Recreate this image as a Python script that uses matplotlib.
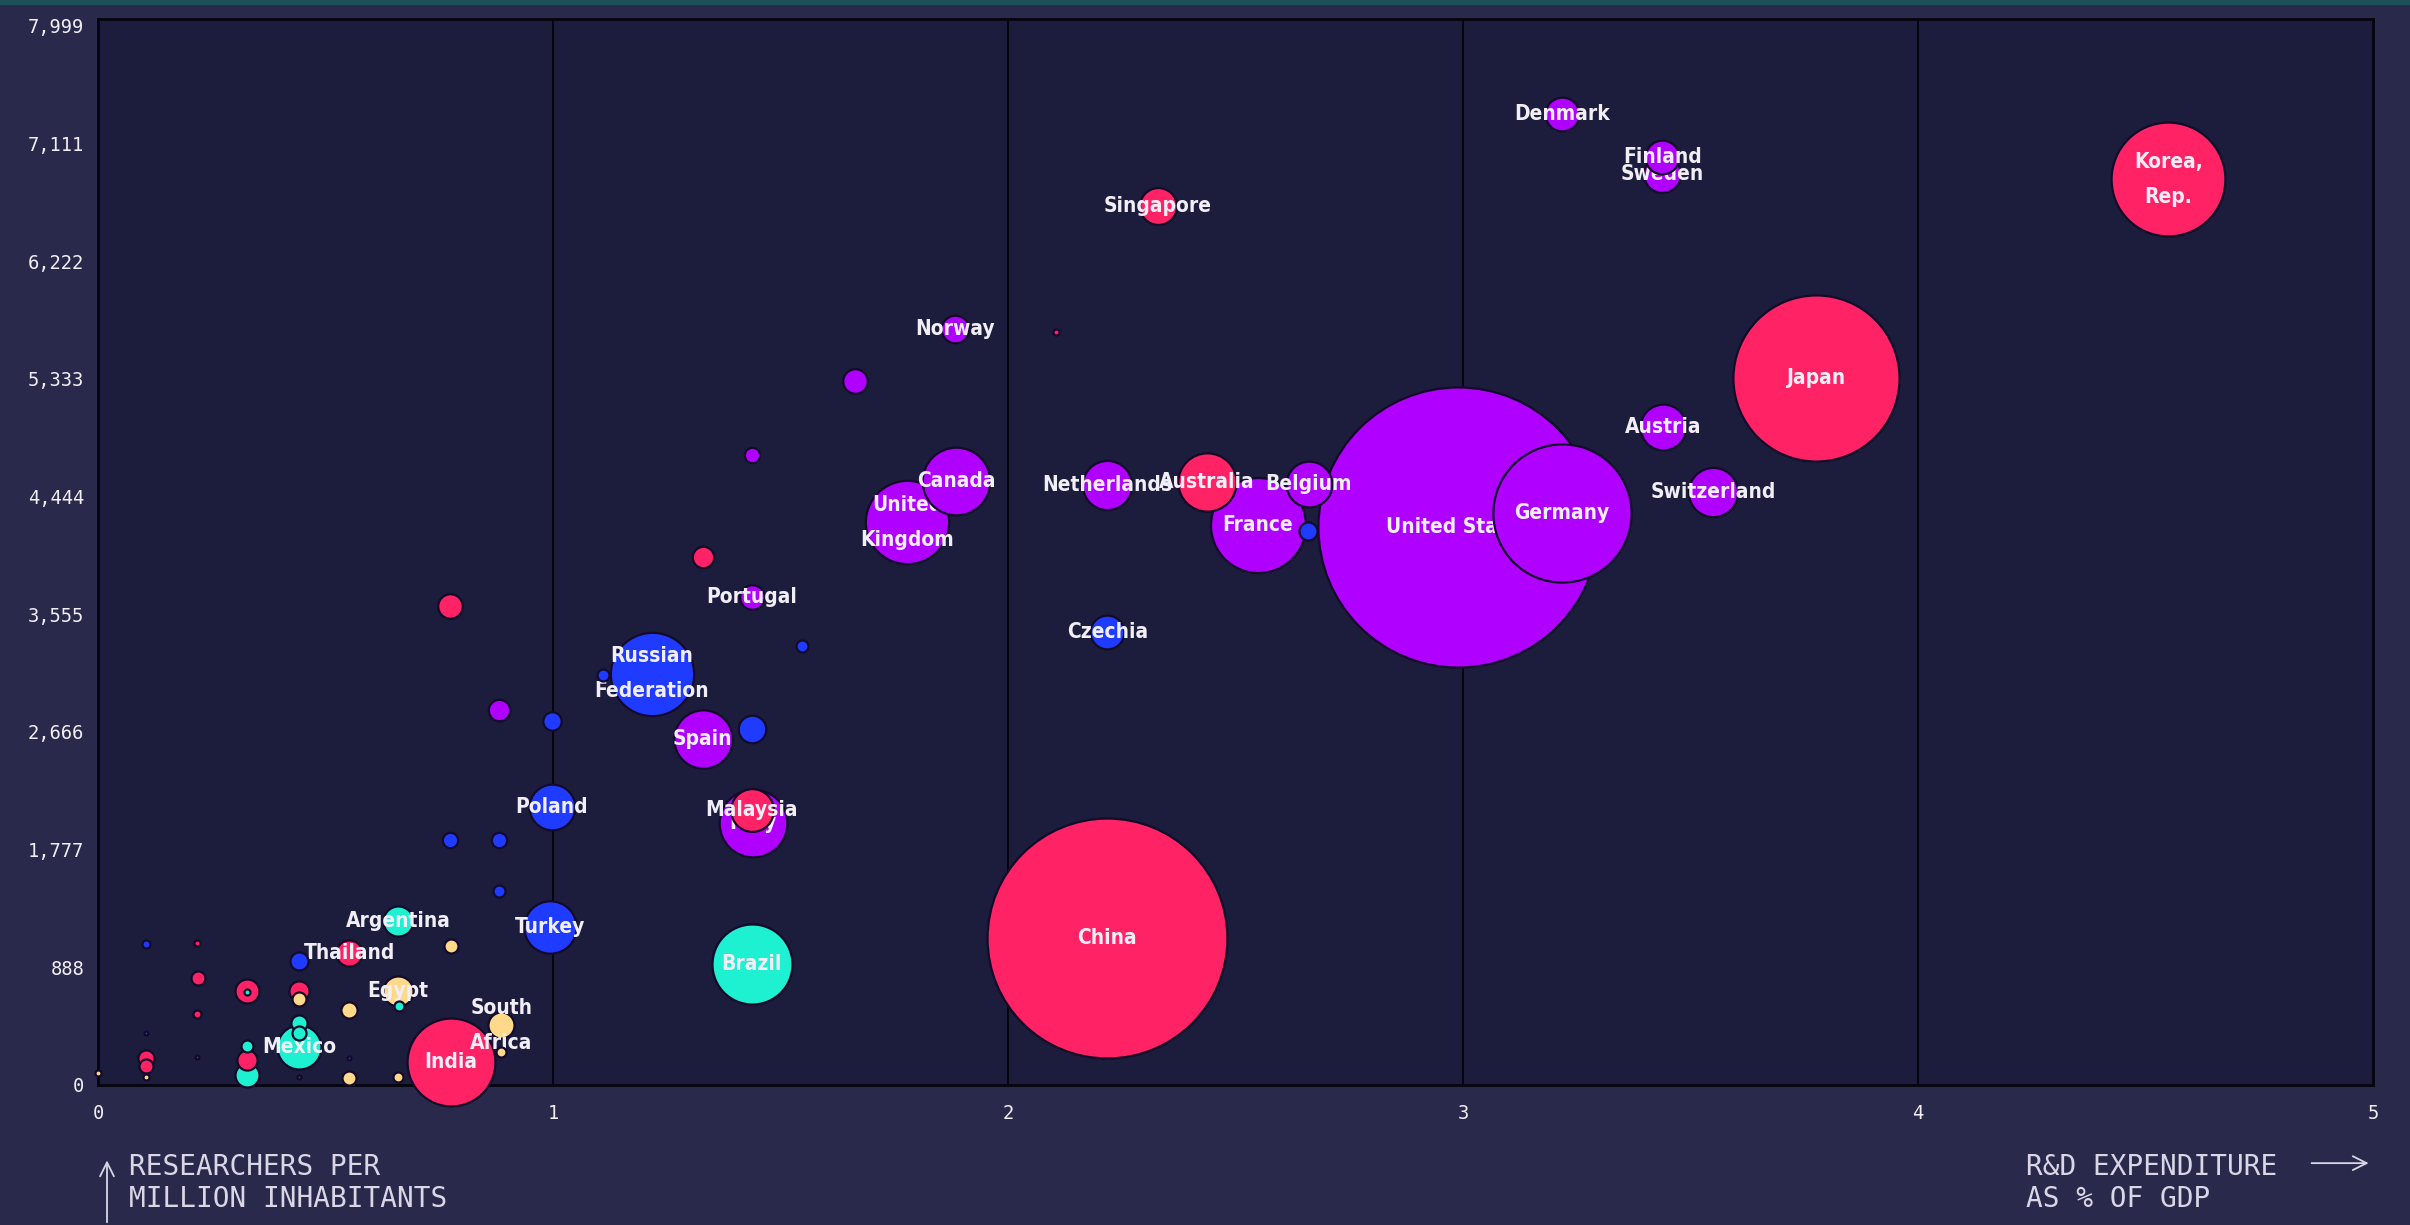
import matplotlib
matplotlib.use("Agg")
import matplotlib.pyplot as plt
from matplotlib.patches import Rectangle

# country labels ('' = unlabelled bubble)
countries = [
    "United States", "China", "Japan", "Germany", "Korea,\nRep.", "France", "India",
    "United\nKingdom", "Russian\nFederation", "Brazil", "Canada", "Italy", "Australia",
    "Spain", "Turkey", "Netherlands", "Malaysia", "Switzerland", "Austria", "Belgium",
    "Poland", "Mexico", "Sweden", "Singapore", "Finland", "Denmark", "Czechia", "Egypt",
    "Argentina", "Thailand", "South\nAfrica", "Norway", "Portugal",
    "", "", "", "", "", "", "", "", "", "", "", "", "", "",
    "", "", "", "", "", "", "", "", "", "", "", "", "", "", "", "", "", "", "", "",
    "", "", "", "", "", "", "", "", "", "",
]
# R&D expenditure as % of GDP
rd_gdp = [
    2.99, 2.218, 3.776, 3.218, 4.55, 2.549, 0.776,
    1.778, 1.217, 1.437, 1.886, 1.44, 2.437,
    1.329, 0.994, 2.218, 1.437, 3.55, 3.44, 2.661,
    0.997, 0.442, 3.438, 2.329, 3.438, 3.218, 2.218, 0.659,
    0.659, 0.552, 0.886, 1.883, 1.437,
    1.663, 1.437, 1.329, 0.774, 1.548, 1.109, 0.882, 0.997, 1.437, 0.774, 0.882, 0.882,
    2.106, 2.66, 0.105, 0.217, 0.776, 0.442, 0.220, 0.327, 0.327, 0.442, 0.442, 0.552,
    0.661, 0.218, 0.105, 0.442, 0.442, 0.886, 0.327, 0.327, 0.327, 0.105, 0.105, 0.105,
    0.217, 0.552, 0.552, 0.659, 0.442, 0.0,
]
# researchers per million inhabitants
researchers = [
    4216, 1109, 5336, 4320, 6838, 4227, 173,
    4250, 3107, 916, 4562, 1975, 4551,
    2610, 1190, 4528, 2079, 4481, 4966, 4539,
    2102, 285, 6880, 6641, 7010, 7334, 3419, 713,
    1239, 999, 451, 5706, 3684,
    5313, 4759, 3985, 3615, 3315, 3095, 2830, 2749, 2691, 1848, 1848, 1467,
    5683, 4181, 1066, 1074, 1051, 939, 811, 713, 700, 713, 646, 563,
    593, 533, 390, 466, 390, 248, 293, 188, 75, 200, 140, 60,
    210, 203, 53, 60, 60, 90,
]
# total R&D spending (bn USD, bubble area)
rd_spend = [
    600, 440, 211, 146, 99, 69, 59,
    53, 53, 49, 35, 35, 26,
    26, 21, 18.5, 14, 18.5, 16, 16,
    16, 14.8, 10.4, 10.4, 8.7, 8.7, 8.7, 6.9,
    6.9, 5.2, 5.2, 5.8, 4.6,
    4.6, 1.8, 3.5, 4.6, 1.1, 1.1, 3.5, 2.6, 5.8, 1.8, 1.8, 1.1,
    0.28, 2.5, 0.49, 0.28, 1.5, 2.5, 1.5, 4.4, 0.28, 3.1, 1.5, 2.0,
    0.77, 0.49, 0.12, 2.0, 1.5, 0.77, 1.1, 3.1, 4.4, 2.0, 1.5, 0.28,
    0.12, 0.12, 1.5, 0.77, 0.12, 0.28,
]
regions = [
    "west", "asia", "asia", "west", "asia", "west", "asia",
    "west", "east", "latam", "west", "west", "asia",
    "west", "east", "west", "asia", "west", "west", "west",
    "east", "latam", "west", "asia", "west", "west", "east", "mena",
    "latam", "asia", "mena", "west", "west",
    "west", "west", "asia", "asia", "east", "east", "west", "east", "east", "east", "east", "east",
    "asia", "east", "east", "asia", "mena", "east", "asia", "asia", "latam", "asia", "mena", "mena",
    "latam", "asia", "east", "latam", "latam", "mena", "latam", "asia", "latam", "asia", "asia", "mena",
    "east", "east", "mena", "mena", "east", "mena",
]

y_ticks = [0, 888, 1777, 2666, 3555, 4444, 5333, 6222, 7111, 7999]
y_ticklabels = ["0", "888", "1,777", "2,666", "3,555", "4,444", "5,333", "6,222", "7,111", "7,999"]
x_ticks = [0, 1, 2, 3, 4, 5]

region_colors = {
    "asia": "#ff2366",
    "west": "#b000ff",
    "east": "#1f3bff",
    "latam": "#1ef0d2",
    "mena": "#ffd98a",
}

fig_bg = "#29294b"
ax_bg = "#1c1c3c"
txt = "#f1eef6"
cap = "#d9d6e6"

fig = plt.figure(figsize=(24.1, 12.25), dpi=100, facecolor=fig_bg)
ax = fig.add_axes([0.0407, 0.1143, 0.9439, 0.8702])
ax.set_facecolor(ax_bg)
fig.patches.append(Rectangle((0, 0.9968), 1, 0.0032, transform=fig.transFigure,
                             color="#1d5058", zorder=0))

ax.set_xlim(0, 5)
ax.set_ylim(0, 8050)
for v in [1, 2, 3, 4]:
    ax.axvline(v, color="#05050f", lw=1.4, zorder=1)
for sp in ax.spines.values():
    sp.set_color("#05050f")
    sp.set_linewidth(2)

ax.set_xticks(x_ticks)
ax.set_xticklabels([str(t) for t in x_ticks])
ax.set_yticks(y_ticks)
ax.set_yticklabels(y_ticklabels)
ax.tick_params(length=0, colors=txt, labelsize=13.5, pad=14)
for lab in ax.get_xticklabels() + ax.get_yticklabels():
    lab.set_family("DejaVu Sans Mono")
ax.tick_params(axis="y", pad=10)

# biggest bubbles first, each label drawn right after its bubble
order = sorted(range(len(rd_spend)), key=lambda i: -rd_spend[i])
z = 2
for i in order:
    ax.scatter(rd_gdp[i], researchers[i], s=rd_spend[i] * 67.8,
               color=region_colors[regions[i]], edgecolor="#140a2a", linewidth=1.6,
               zorder=z, clip_on=False)
    if countries[i]:
        ax.text(rd_gdp[i], researchers[i], countries[i], ha="center", va="center",
                color=txt, fontsize=15, linespacing=1.95, family="DejaVu Sans",
                fontstretch="condensed", fontweight="bold", zorder=z + 1)
    z += 2

# axis captions
fig.text(0.0535, 0.059, "RESEARCHERS PER\nMILLION INHABITANTS", ha="left", va="top",
         color=cap, fontsize=20, family="DejaVu Sans Mono", linespacing=1.2)
fig.text(0.8407, 0.059, "R&D EXPENDITURE\nAS % OF GDP", ha="left", va="top",
         color=cap, fontsize=20, family="DejaVu Sans Mono", linespacing=1.2)
ax.annotate("", xy=(0.0444, 0.055), xytext=(0.0444, 0.0), xycoords="figure fraction",
            arrowprops=dict(arrowstyle="->", color=cap, lw=1.3, mutation_scale=25))
ax.annotate("", xy=(0.984, 0.0505), xytext=(0.958, 0.0505), xycoords="figure fraction",
            arrowprops=dict(arrowstyle="->", color=cap, lw=1.3, mutation_scale=25))

fig.savefig("out.png", dpi=100, facecolor=fig_bg)
